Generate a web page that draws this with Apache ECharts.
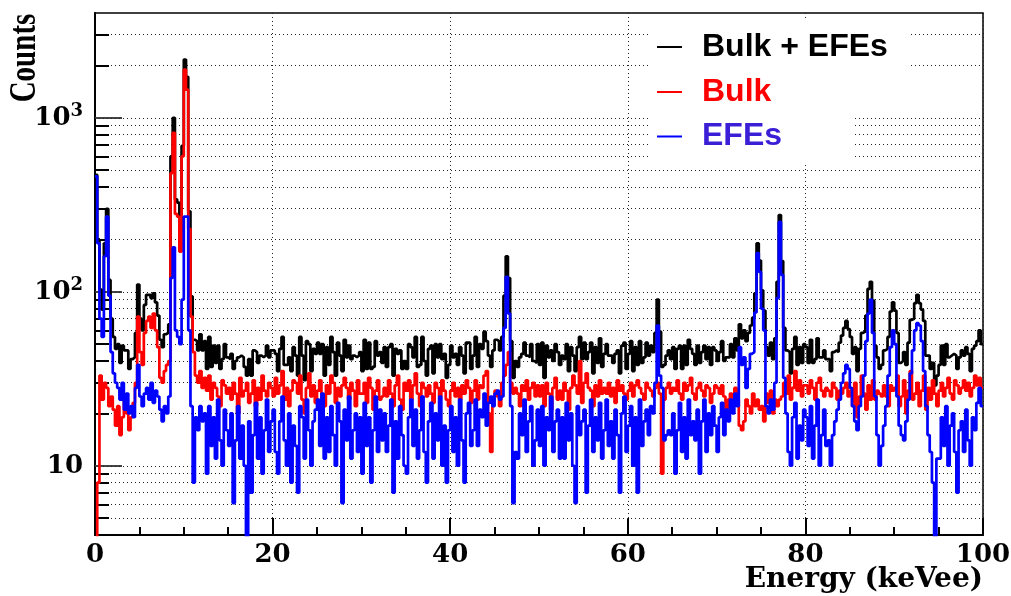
<!DOCTYPE html>
<html><head><meta charset="utf-8">
<script src="https://cdn.jsdelivr.net/npm/echarts@6/dist/echarts.min.js"></script>
<style>html,body{margin:0;padding:0;background:#fff;}#chart{width:1011px;height:596px;}</style>
</head><body><div id="chart"></div>
<script>
// Histogram: bins of 0.25 keVee from 0 to 100 keVee
const binStart = 0;
const binWidth = 0.25;

const bulkEfes = [
470,200,103,79,190,300,117,70,55,47,
50,39,49,46,46,36,41,42,58,110,
70,60,84,96,96,92,98,87,73,53,
48,57,58,65,600,1000,340,325,220,690,
2160,1720,290,94,53,52,46,57,46,52,
36,55,37,49,39,49,36,41,50,42,
41,44,36,40,42,43,42,37,33,41,
33,46,45,39,43,42,43,49,42,46,
46,44,35,47,55,38,38,42,35,48,
43,33,55,43,31,52,50,35,47,44,
51,44,50,33,48,38,55,45,33,51,
43,35,53,42,49,41,43,42,43,45,
35,53,36,51,36,37,52,43,45,39,
48,37,48,50,33,47,44,46,36,40,
36,50,48,42,55,37,38,55,40,33,
47,49,34,50,42,50,41,44,32,38,
49,42,44,38,48,43,34,51,51,36,
43,55,37,50,47,59,52,43,37,46,
53,52,46,55,95,160,120,52,32,40,
37,42,44,51,43,42,50,40,39,50,
38,51,32,49,42,46,40,50,45,38,
43,41,50,35,48,43,35,48,55,41,
51,41,45,51,34,48,39,54,37,44,
50,43,43,39,44,46,34,49,51,36,
44,52,35,48,38,52,39,42,51,43,
49,45,58,90,59,37,38,43,46,41,
48,36,47,49,36,49,38,53,47,44,
38,49,39,45,49,41,48,38,48,46,
40,45,52,40,42,42,50,42,54,46,
65,54,60,52,58,64,71,98,190,151,
102,78,48,43,51,41,54,114,276,150,
62,46,45,34,47,55,38,48,39,50,
48,39,53,39,41,54,42,42,46,41,
41,35,45,46,45,51,56,62,68,61,
55,44,48,35,47,58,59,73,104,114,
89,49,42,36,38,46,47,55,77,87,
78,58,39,40,45,38,51,69,70,86,
96,86,79,68,43,43,36,39,29,33,
38,49,38,50,42,43,44,43,36,42,
46,43,48,44,35,47,49,52,60,50
];

const bulk = [
3,8,33,24,30,28,22,25,21,17,
22,15,19,25,20,16,19,23,30,72,
45,38,58,68,72,62,75,60,48,32,
30,35,38,40,480,820,280,270,170,600,
1890,1450,230,72,45,33,30,35,28,32,
27,33,24,30,28,25,22,31,29,26,
28,24,30,26,20,32,25,27,30,23,
26,31,22,28,24,33,27,25,30,28,
25,32,26,29,35,24,28,22,27,31,
30,26,33,24,20,28,34,25,29,23,
27,31,24,22,29,26,33,30,23,28,
25,29,32,28,24,30,27,22,31,26,
26,30,23,32,28,21,27,31,24,25,
28,25,31,26,22,29,33,24,21,30,
27,31,24,29,34,26,22,30,28,25,
29,26,23,30,28,25,31,27,24,22,
27,30,25,28,24,29,26,31,28,23,
27,31,24,29,28,33,35,20,12,24,
27,25,22,30,33,38,45,30,26,28,
26,22,29,27,31,24,28,30,25,29,
25,29,22,30,26,21,28,32,24,27,
24,30,27,21,28,33,29,26,40,23,
30,34,28,27,22,29,25,31,26,28,
26,30,25,28,23,31,27,29,26,24,
27,30,25,29,31,28,26,24,30,28,
27,25,28,30,26,9,24,28,30,26,
28,27,31,26,24,30,27,29,32,26,
24,28,30,27,25,29,28,23,26,29,
28,26,29,25,21,24,26,22,28,24,
17,16,18,24,22,20,26,22,24,21,
22,18,26,23,27,20,24,22,24,25,
30,26,33,24,28,35,27,31,25,29,
29,26,31,28,24,30,32,27,25,28,
27,25,30,28,24,27,26,28,30,25,
27,22,30,19,25,33,26,21,29,24,
31,24,27,26,25,29,25,22,29,27,
28,33,22,25,31,20,27,35,24,26,
30,22,27,33,21,28,24,31,26,22,
27,30,25,28,32,26,24,31,29,26,
28,31,27,30,25,28,33,29,32,28
];

const efes = [
460,190,70,55,160,270,95,45,34,30,
28,24,30,21,26,20,22,19,28,38,
25,22,26,28,24,30,23,27,25,21,
18,22,20,25,120,180,60,55,50,90,
270,270,60,22,8,19,16,22,18,20,
9,22,13,19,11,24,14,10,21,16,
13,20,6.1,14,22,11,17,10,3,18,
7,15,23,11,19,9,16,24,12,18,
21,12,9,18,25,14,10,20,8,17,
13,7,22,19,11,24,16,10,18,21,
24,13,26,11,19,12,22,15,10,23,
18,6.1,21,14,25,11,16,20,12,19,
9,23,13,19,8,16,25,12,21,14,
20,12,17,24,7,18,11,22,15,10,
9,19,24,13,21,11,16,25,12,8,
18,23,11,20,14,25,10,17,8,16,
22,12,19,10,24,14,8,20,23,13,
16,24,13,21,19,26,17,23,25,22,
26,27,24,25,62,122,75,22,6.1,12,
11,20,15,24,12,18,22,10,14,21,
13,22,10,19,16,25,12,18,21,11,
19,11,23,14,20,10,6.1,22,15,18,
21,7,17,24,12,19,14,23,11,16,
24,13,18,11,21,15,7,20,25,12,
17,22,10,19,7,24,13,18,21,15,
22,20,30,64,33,28,14,15,16,15,
20,9,16,23,12,19,11,24,15,18,
14,21,9,18,24,12,20,15,22,17,
12,19,23,15,21,18,24,20,26,22,
48,38,42,28,36,44,45,76,167,130,
80,60,22,20,24,21,30,92,252,125,
32,20,12,10,19,23,11,17,14,21,
19,13,22,11,17,24,10,15,21,13,
14,10,15,18,21,24,30,34,38,36,
28,22,18,16,22,25,33,52,75,90,
58,25,15,10,13,17,22,33,48,60,
50,25,17,15,14,18,24,34,46,60,
66,64,52,35,22,15,12,8,3,11,
11,19,13,22,10,17,20,12,7,16,
18,12,21,14,10,19,16,23,28,22
];

const seriesNames = ['Bulk + EFEs', 'Bulk', 'EFEs'];
const xMin = 0, xMax = 100, xStep = 20;
const yMin = 4, yMax = 4000;
// log-axis grid values (2..9 x each decade)
const yGridValues = [5,6,7,8,9,10,20,30,40,50,60,70,80,90,100,200,300,400,500,600,700,800,900,1000,2000,3000];
const xTitle = 'Energy (keVee)';
const yTitle = 'Counts';

function toSteps(vals) {
  const d = vals.map((v, i) => [binStart + i * binWidth, v]);
  d.push([binStart + vals.length * binWidth, vals[vals.length - 1]]);
  return d;
}

const chart = echarts.init(document.getElementById('chart'));
const gridLeft = 95, gridRight = 28, gridTop = 13, gridBottom = 61;
const plotW = 1011 - gridLeft - gridRight;
const minorTickLen = 14 * (xMax - xMin) / plotW;
const isDecade = v => Math.abs(Math.log10(v) - Math.round(Math.log10(v))) < 1e-6;

const gridMarkLines = yGridValues.map(v => ({ yAxis: v }));
const minorTicks = yGridValues.filter(v => !isDecade(v)).map(v => [
  { coord: [xMin, v] }, { coord: [xMin + minorTickLen, v] }
]);

const serif = 'DejaVu Serif';
const lw = 2.7;
const option = {
  animation: false,
  backgroundColor: '#fff',
  grid: { left: gridLeft, right: gridRight, top: gridTop, bottom: gridBottom, containLabel: false, outerBoundsMode: 'none',
          show: true, borderColor: '#000', borderWidth: 1.5, backgroundColor: 'transparent' },
  xAxis: {
    type: 'value', min: xMin, max: xMax, interval: xStep,
    axisLine: { onZero: false, lineStyle: { color: '#000', width: 2 } },
    axisTick: { inside: true, length: 17, lineStyle: { color: '#000', width: 2 } },
    minorTick: { show: true, splitNumber: 4, length: 8, lineStyle: { color: '#000', width: 2 } },
    splitLine: { show: true, lineStyle: { color: '#222', width: 1, type: [1, 3] } },
    axisLabel: { fontFamily: serif, fontWeight: 'bold', fontSize: 26, color: '#000', margin: 7 }
  },
  yAxis: {
    type: 'log', logBase: 10, min: yMin, max: yMax,
    axisLine: { lineStyle: { color: '#000', width: 2 } },
    axisTick: { inside: true, length: 27, lineStyle: { color: '#444', width: 2 } },
    splitLine: { show: false },
    axisLabel: {
      margin: 12, showMinLabel: false, showMaxLabel: false,
      formatter: v => {
        if (!isDecade(v)) return '';
        const e = Math.round(Math.log10(v));
        return e === 1 ? '{b|10}' : '{b|10}{s|' + e + '}';
      },
      rich: {
        b: { fontFamily: serif, fontWeight: 'bold', fontSize: 26, color: '#000', lineHeight: 30 },
        s: { fontFamily: serif, fontWeight: 'bold', fontSize: 18, color: '#000', verticalAlign: 'top', lineHeight: 30 }
      }
    }
  },
  legend: [
    {
      data: [{ name: seriesNames[0], textStyle: { color: '#000' } }],
      orient: 'vertical', left: 651, top: 20, backgroundColor: '#fff',
      padding: [8, 21, 4, 6], icon: 'rect', itemWidth: 25, itemHeight: 2,
      selectedMode: false,
      textStyle: { fontFamily: 'Liberation Sans', fontWeight: 'bold', fontSize: 32, lineHeight: 38, padding: [0, 0, 0, 15] }
    },
    {
      data: [{ name: seriesNames[1], textStyle: { color: '#ff0000' } }, { name: seriesNames[2], textStyle: { color: '#3a1fd6' } }],
      orient: 'vertical', left: 651, top: 70, backgroundColor: '#fff', itemGap: 6.5,
      padding: [3, 71, 8, 6], icon: 'rect', itemWidth: 25, itemHeight: 2,
      selectedMode: false,
      textStyle: { fontFamily: 'Liberation Sans', fontWeight: 'bold', fontSize: 32, lineHeight: 38, padding: [0, 0, 0, 15] }
    }
  ],
  graphic: [
    { type: 'text', x: 25, y: 58, rotation: Math.PI / 2, scaleY: 1.28,
      style: { text: yTitle, font: 'bold 29px "Liberation Serif"', fill: '#000', textAlign: 'center', textVerticalAlign: 'middle' } },
    { type: 'text', right: gridRight, top: 566,
      style: { text: xTitle, font: 'bold 28px "DejaVu Serif"', fill: '#000' } }
  ],
  series: [
    {
      name: seriesNames[0], type: 'line', step: 'end', data: toSteps(bulkEfes),
      showSymbol: false, symbol: 'none', z: 2,
      lineStyle: { color: '#000', width: lw }, itemStyle: { color: '#000' },
      markLine: {
        silent: true, symbol: 'none', z: 1, animation: false, label: { show: false },
        lineStyle: { color: '#222', width: 1, type: [1, 3] },
        data: gridMarkLines
      }
    },
    {
      name: seriesNames[1], type: 'line', step: 'end', data: toSteps(bulk),
      showSymbol: false, symbol: 'none', z: 3,
      lineStyle: { color: '#ff0000', width: lw }, itemStyle: { color: '#ff0000' },
      markLine: {
        silent: true, symbol: 'none', z: 1, animation: false, label: { show: false },
        lineStyle: { color: '#000', width: 2, type: 'solid' },
        data: minorTicks
      }
    },
    {
      name: seriesNames[2], type: 'line', step: 'end', data: toSteps(efes),
      showSymbol: false, symbol: 'none', z: 4,
      lineStyle: { color: '#0000ff', width: lw }, itemStyle: { color: '#0000ff' }
    }
  ]
};
chart.setOption(option);
</script>
</body></html>
